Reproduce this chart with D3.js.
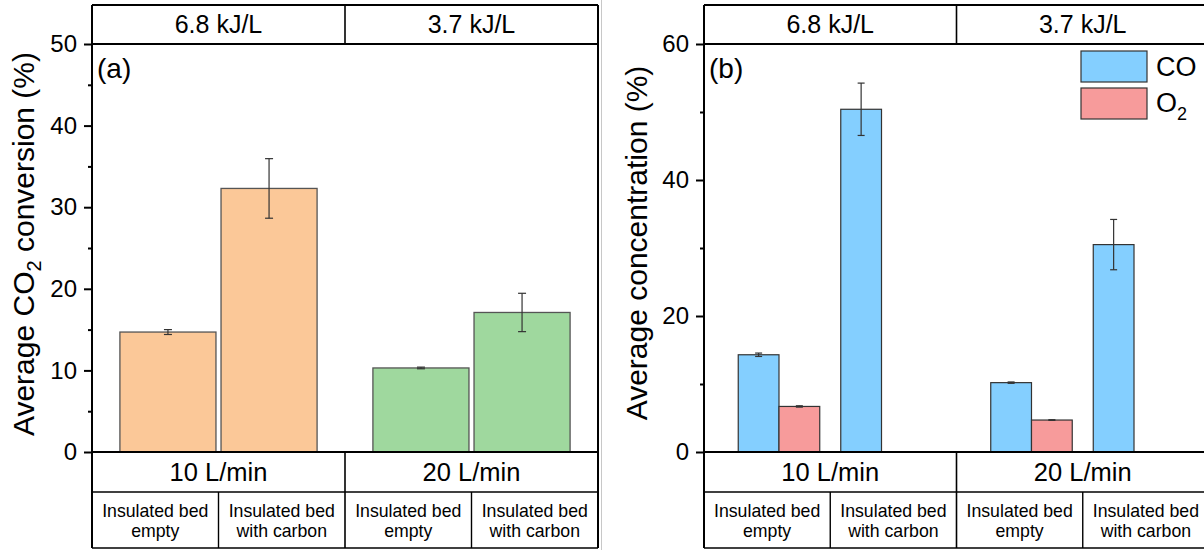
<!DOCTYPE html>
<html><head><meta charset="utf-8">
<script src="https://cdn.jsdelivr.net/npm/d3@7"></script>
<style>body{margin:0;background:#fff}svg{display:block;font-family:"Liberation Sans",Arial,sans-serif}</style>
</head><body><svg id="c" width="1204" height="550"></svg>
<script>
// ---- data ----
const flows = ["10 L/min", "20 L/min"];
const energies = ["6.8 kJ/L", "3.7 kJ/L"];
const beds = ["empty", "carbon"];
const bedLabels = [["Insulated bed", "empty"], ["Insulated bed", "with carbon"]];
// order: [10 empty, 10 carbon, 20 empty, 20 carbon]
const convMean = [14.7, 32.3, 10.3, 17.1];
const convErr  = [0.3, 3.65, 0.1, 2.35];
const species = ["CO", "O2"];
const coMean = [14.3, 50.4, 10.2, 30.5];
const coErr  = [0.25, 3.85, 0.1, 3.7];
const o2Mean = [6.7, null, 4.7, null];
const o2Err  = [0.1, null, 0.05, null];
const ticksA = [0, 10, 20, 30, 40, 50];
const minorA = [5, 15, 25, 35, 45];
const ticksB = [0, 20, 40, 60];
const minorB = [10, 30, 50];

const colors = {conv: ["#FBC898", "#9FD89E"], CO: "#84CFFF", O2: "#F79B9B"};

const svg = d3.select("#c");
const TOP = 5, PT = 44, BASE = 452, ROW = 492, BOT = 548;
const LW = 2;

function line(g, x1, y1, x2, y2, w) {
  g.append("line").attr("x1", x1).attr("y1", y1).attr("x2", x2).attr("y2", y2)
    .attr("stroke", "#000").attr("stroke-width", w || LW);
}

function panel(opt) {
  const g = svg.append("g");
  const x0 = d3.scaleBand().domain(flows).range([opt.left, opt.right]);
  const x1 = d3.scaleBand().domain(beds).range([0, x0.bandwidth()])
    .paddingInner(opt.pi).paddingOuter(opt.po);
  const y = d3.scaleLinear().domain([0, opt.yMax]).range([BASE, PT]);

  // bars
  opt.drawBars(g, x0, x1, y);

  // frame
  line(g, opt.left, TOP, opt.right, TOP);
  line(g, opt.left, PT, opt.right, PT);
  line(g, opt.left, BASE, opt.right, BASE);
  line(g, opt.left, ROW, opt.right, ROW, 1.6);
  line(g, opt.left, BOT, opt.right, BOT, 1.6);
  line(g, opt.left, TOP, opt.left, BOT);
  line(g, opt.right, TOP, opt.right, BOT);
  const mid = x0(flows[1]);
  line(g, mid, TOP, mid, PT, 1.6);
  line(g, mid, BASE, mid, BOT, 1.6);
  flows.forEach(f => {
    const m = x0(f) + x0.bandwidth() / 2;
    line(g, m, ROW, m, BOT, 1.4);
  });

  // header texts
  g.selectAll(".hdr").data(energies).join("text")
    .attr("x", (d, i) => x0(flows[i]) + x0.bandwidth() / 2).attr("y", 33)
    .attr("text-anchor", "middle").attr("font-size", 25).text(d => d);
  g.selectAll(".flw").data(flows).join("text")
    .attr("x", d => x0(d) + x0.bandwidth() / 2).attr("y", 481)
    .attr("text-anchor", "middle").attr("font-size", 25.5).text(d => d);
  flows.forEach(f => {
    beds.forEach((b, bi) => {
      const cx = x0(f) + x0.bandwidth() / 4 * (1 + 2 * bi);
      const t = g.append("text").attr("text-anchor", "middle").attr("font-size", 17.7);
      bedLabels[bi].forEach((s, li) => {
        t.append("tspan").attr("x", cx).attr("y", 517 + li * 20).text(s);
      });
    });
  });

  // axes
  const ax = g.append("g").attr("transform", `translate(${opt.left},0)`)
    .call(d3.axisLeft(y).tickValues(opt.ticks).tickSize(8).tickPadding(7).tickSizeOuter(0));
  ax.select(".domain").remove();
  ax.selectAll("line").attr("stroke-width", 2).attr("stroke", "#000");
  ax.selectAll("text").attr("font-size", 24).attr("font-family", "Liberation Sans, Arial, sans-serif").attr("fill", "#000");
  const mx = g.append("g").attr("transform", `translate(${opt.left},0)`)
    .call(d3.axisLeft(y).tickValues(opt.minor).tickSize(4).tickFormat(""));
  mx.select(".domain").remove();
  mx.selectAll("line").attr("stroke-width", 2).attr("stroke", "#000");

  // y label
  const lab = g.append("text").attr("transform", `translate(${opt.labX},${opt.labY}) rotate(-90)`)
    .attr("text-anchor", "middle").attr("font-size", 30);
  opt.label.forEach(p => {
    const ts = lab.append("tspan").text(p.t);
    if (p.sub) ts.attr("font-size", 20).attr("dy", 7);
    if (p.after) ts.attr("dy", -7);
  });

  // letter
  g.append("text").attr("x", opt.left + 5).attr("y", 78).attr("font-size", 28).text(opt.letter);
  return {x0, x1, y};
}

function errBar(g, cx, y, m, e, cap) {
  if (e == null) return;
  const eg = g.append("g").attr("stroke", "#333").attr("stroke-width", 1.2);
  eg.append("line").attr("x1", cx).attr("x2", cx).attr("y1", y(m + e)).attr("y2", y(m - e));
  [m + e, m - e].forEach(v => eg.append("line").attr("x1", cx - cap).attr("x2", cx + cap)
    .attr("y1", y(v)).attr("y2", y(v)));
}

// Panel (a)
panel({
  left: 92, right: 598, yMax: 50, ticks: ticksA, minor: minorA, pi: 0.05, po: 0.276,
  labX: 34, labY: 244, letter: "(a)",
  label: [{t: "Average CO"}, {t: "2", sub: true}, {t: " conversion (%)", after: true}],
  drawBars(g, x0, x1, y) {
    const data = [];
    flows.forEach((f, fi) => beds.forEach((b, bi) => {
      const k = fi * 2 + bi;
      data.push({f, b, fi, m: convMean[k], e: convErr[k]});
    }));
    g.selectAll(".bar").data(data).join("rect")
      .attr("x", d => x0(d.f) + x1(d.b)).attr("width", x1.bandwidth())
      .attr("y", d => y(d.m)).attr("height", d => y(0) - y(d.m))
      .attr("fill", d => colors.conv[d.fi]).attr("stroke", "#555").attr("stroke-width", 1.3);
    data.forEach(d => errBar(g, x0(d.f) + x1(d.b) + x1.bandwidth() / 2, y, d.m, d.e, 4));
  }
});

// Panel (b)
panel({
  left: 704, right: 1209, yMax: 60, ticks: ticksB, minor: minorB, pi: 0.205, po: 0.334,
  labX: 647, labY: 243, letter: "(b)",
  label: [{t: "Average concentration (%)"}],
  drawBars(g, x0, x1, y) {
    const x2 = d3.scaleBand().domain(species).range([0, x1.bandwidth()]);
    const data = [];
    flows.forEach((f, fi) => beds.forEach((b, bi) => {
      const k = fi * 2 + bi;
      data.push({f, b, s: "CO", m: coMean[k], e: coErr[k]});
      if (o2Mean[k] != null) data.push({f, b, s: "O2", m: o2Mean[k], e: o2Err[k]});
    }));
    g.selectAll(".bar").data(data).join("rect")
      .attr("x", d => x0(d.f) + x1(d.b) + x2(d.s)).attr("width", x2.bandwidth())
      .attr("y", d => y(d.m)).attr("height", d => y(0) - y(d.m))
      .attr("fill", d => colors[d.s]).attr("stroke", "#333").attr("stroke-width", 1.2);
    data.forEach(d => errBar(g, x0(d.f) + x1(d.b) + x2(d.s) + x2.bandwidth() / 2, y, d.m, d.e, 3.5));
  }
});

// separator between the two images
svg.append("line").attr("x1", 601.5).attr("x2", 601.5).attr("y1", 0).attr("y2", 550)
  .attr("stroke", "#c8c8c8").attr("stroke-width", 1);

// legend
const leg = svg.append("g");
species.forEach((s, i) => {
  leg.append("rect").attr("x", 1081).attr("y", 51 + i * 37).attr("width", 66).attr("height", 31)
    .attr("fill", colors[s]).attr("stroke", "#333").attr("stroke-width", 1.2);
  const t = leg.append("text").attr("x", 1156).attr("y", 76 + i * 36).attr("font-size", 27);
  if (s === "O2") { t.append("tspan").text("O"); t.append("tspan").attr("font-size", 18).attr("dy", 8).text("2"); }
  else t.text(s);
});
</script></body></html>
